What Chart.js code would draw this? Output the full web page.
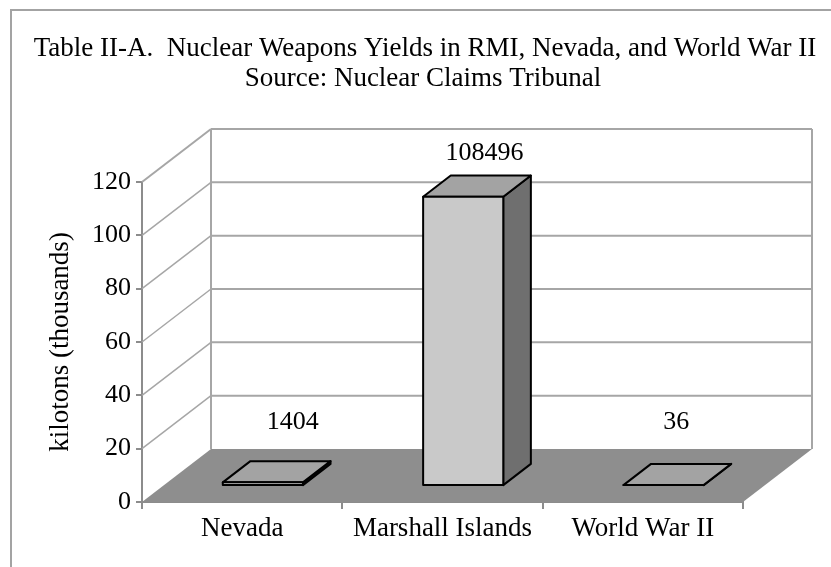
<!DOCTYPE html>
<html>
<head>
<meta charset="utf-8">
<script src="https://cdn.jsdelivr.net/npm/chart.js@4.4.1/dist/chart.umd.min.js"></script>
<style>
  html, body { margin: 0; padding: 0; background: #fff; }
</style>
</head>
<body>
<canvas id="yieldChart" width="831" height="567"></canvas>
<script>
/* 3D-look column chart: nuclear yields (thousands of kilotons) */

const titleLines  = ['Table II-A.  Nuclear Weapons Yields in RMI, Nevada, and World War II',
                     'Source: Nuclear Claims Tribunal'];
const categories  = ['Nevada', 'Marshall Islands', 'World War II'];
const yields      = [1.404, 108.496, 0.036];
const valueLabels = ['1404', '108496', '36'];
const yTicks      = [0, 20, 40, 60, 80, 100, 120];

const FONT  = 'Liberation Serif';
const DEPTH = { dx: 69, dy: -53 };   // front edge -> back wall
const BAR_FRONT = 0.3;               // where the bar's front face sits in the depth
const BAR_DEPTH = 0.4;               // how deep a bar is

// ── 3D WALLS, FLOOR AND BOXES ──────────────────────────────────
const box3d = {
  id: 'box3d',
  beforeDraw(chart) {
    const { ctx, width, height } = chart;
    ctx.save();
    ctx.strokeStyle = '#a3a3a3';
    ctx.lineWidth = 2;
    ctx.beginPath();
    ctx.moveTo(11, height); ctx.lineTo(11, 10); ctx.lineTo(width, 10);
    ctx.stroke();
    ctx.restore();
  },
  beforeDatasetsDraw(chart) {
    const { ctx, chartArea: a, scales: { x, y } } = chart;
    const { dx, dy } = DEPTH;
    const y0 = y.getPixelForValue(0);
    ctx.save();

    // floor
    ctx.fillStyle = '#8e8e8e';
    ctx.beginPath();
    ctx.moveTo(a.left, y0); ctx.lineTo(a.right, y0);
    ctx.lineTo(a.right + dx, y0 + dy); ctx.lineTo(a.left + dx, y0 + dy);
    ctx.closePath(); ctx.fill();

    // side wall diagonals + back wall grid
    ctx.strokeStyle = '#a6a6a6';
    y.ticks.forEach(t => {
      if (t.value === 0) return;
      const py = y.getPixelForValue(t.value);
      ctx.lineWidth = t.value === y.max ? 2 : 1.5;
      ctx.beginPath();
      ctx.moveTo(a.left, py); ctx.lineTo(a.left + dx, py + dy);
      ctx.stroke();
      ctx.lineWidth = 2;
      ctx.beginPath();
      ctx.moveTo(a.left + dx, py + dy); ctx.lineTo(a.right + dx, py + dy);
      ctx.stroke();
    });
    const wallTop = y.getPixelForValue(y.max) + dy;
    ctx.lineWidth = 2;
    ctx.beginPath();
    ctx.moveTo(a.left + dx, wallTop);  ctx.lineTo(a.left + dx, y0 + dy);
    ctx.moveTo(a.right + dx, wallTop); ctx.lineTo(a.right + dx, y0 + dy);
    ctx.stroke();

    // boxes
    const fx = dx * BAR_FRONT, fy = dy * BAR_FRONT;
    const bx = dx * BAR_DEPTH, by = dy * BAR_DEPTH;
    const meta = chart.getDatasetMeta(0);
    ctx.lineWidth = 2;
    ctx.lineJoin = 'round';
    ctx.strokeStyle = '#000';
    meta.data.forEach((bar, i) => {
      const p = bar.getProps(['x', 'y', 'base', 'width'], true);
      const L = p.x - p.width / 2 + fx, R = L + p.width;
      const T = Math.min(p.y, p.base) + fy, B = p.base + fy;

      const face = (pts, fill) => {
        ctx.beginPath();
        ctx.moveTo(pts[0][0], pts[0][1]);
        pts.slice(1).forEach(q => ctx.lineTo(q[0], q[1]));
        ctx.closePath();
        ctx.fillStyle = fill; ctx.fill(); ctx.stroke();
      };
      face([[R, T], [R + bx, T + by], [R + bx, B + by], [R, B]], '#6f6f6f');
      face([[L, T], [R, T], [R + bx, T + by], [L + bx, T + by]], '#a3a3a3');
      face([[L, T], [R, T], [R, B], [L, B]], '#c9c9c9');

      // value label floats above the box
      const frac = (p.x - a.left) / a.width;
      const lx = p.x + 55 - 26 * frac;
      const ly = Math.min(T + by - 22, y0 + dy - 27);
      ctx.fillStyle = '#000';
      ctx.font = `26px "${FONT}"`;
      ctx.textAlign = 'center';
      ctx.textBaseline = 'middle';
      ctx.fillText(valueLabels[i], lx, ly);
    });

    ctx.restore();
    return false; // boxes are drawn above, skip the flat bars
  },
  afterDraw(chart) {
    const { ctx } = chart;
    ctx.save();
    ctx.fillStyle = '#000';
    ctx.font = `27px "${FONT}"`;
    ctx.textAlign = 'center';
    ctx.textBaseline = 'middle';
    ctx.fillText(titleLines[0], 425, 49);
    ctx.fillText(titleLines[1], 423, 79);
    ctx.restore();
  }
};

// ── CHART ──────────────────────────────────────────────────────
const ctx = document.getElementById('yieldChart').getContext('2d');
new Chart(ctx, {
  type: 'bar',
  data: {
    labels: categories,
    datasets: [{
      data: yields,
      backgroundColor: '#c9c9c9',
      barPercentage: 0.4,
      categoryPercentage: 1,
    }],
  },
  options: {
    responsive: false,
    animation: false,
    layout: { padding: { top: 182, right: 88, bottom: 18, left: 0 } },
    plugins: {
      legend: { display: false },
      tooltip: { enabled: false },
      title: { display: false },
    },
    scales: {
      x: {
        grid: { drawOnChartArea: false, tickLength: 7, color: '#8c8c8c', lineWidth: 2 },
        border: { color: '#8c8c8c', width: 2 },
        ticks: { color: '#000', font: { family: FONT, size: 27 }, padding: 4, maxRotation: 0 },
        afterFit: s => { s.height = 47; },
      },
      y: {
        min: 0, max: 120,
        afterBuildTicks: s => { s.ticks = yTicks.map(v => ({ value: v })); },
        grid: { drawOnChartArea: false, tickLength: 6, color: '#8c8c8c', lineWidth: 2 },
        border: { color: '#8c8c8c', width: 2 },
        ticks: { color: '#000', font: { family: FONT, size: 26 }, padding: 5 },
        title: {
          display: true, text: 'kilotons (thousands)', color: '#000',
          font: { family: FONT, size: 27 }, padding: { top: 45, bottom: 0 },
        },
        afterFit: s => { s.width = 142; },
      },
    },
  },
  plugins: [box3d],
});
</script>
</body>
</html>
